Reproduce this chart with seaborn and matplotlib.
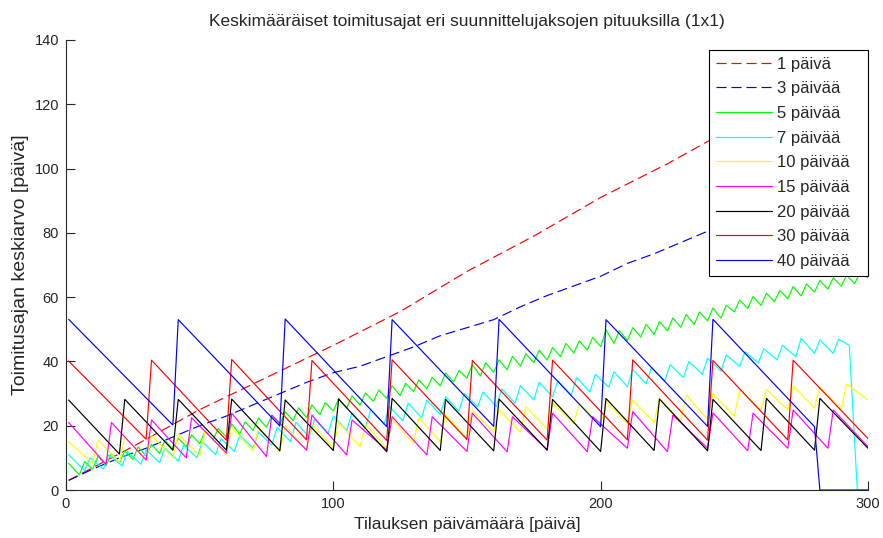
import matplotlib
matplotlib.use("Agg")
import matplotlib.pyplot as plt
import pandas as pd
import seaborn as sns

# 1 day planning period (red dashed), read every 25 days
days_1 = [1, 25, 50, 75, 100, 125, 150, 175, 200, 225, 250, 275, 300]
lead_1 = [3, 13.5, 25, 35, 45, 55.5, 68, 79, 91, 101.5, 113, 124.5, 136.5]

# 3 day planning period (blue dashed), read every 10 days
days_3 = [1, 10, 20, 30, 40, 50, 60, 70, 80, 90, 100, 110, 120, 130, 140, 150,
          160, 170, 180, 190, 200, 210, 220, 230, 240, 250, 260, 270, 280, 290, 300]
lead_3 = [3, 6.5, 10, 13, 16.5, 20, 23, 26.5, 30, 33.5, 36.5, 38.5, 41.5, 44.5, 48, 50.5,
          53, 57, 60.5, 63.5, 66.5, 70.5, 73.5, 77, 80.5, 84, 87.5, 91, 94.5, 98, 101.7]

# 5 days (green): peaks and troughs of the saw
peak_days_5 = [1] + list(range(7, 300, 5))
peak_5 = [8.3, 8.8, 10.5, 11.3, 12.2, 13.4, 14.2, 15.5, 16.1, 17.2,
          18.3, 19.1, 20.5, 21.2, 22.4, 23.1, 24.3, 25.6, 26.5, 27.2,
          28.4, 29.3, 30.2, 31.1, 32.4, 33.2, 34.3, 35.1, 36.4, 37.2,
          39.0, 39.6, 40.5, 41.6, 42.4, 43.5, 44.3, 45.6, 46.4, 47.5,
          49.8, 49.6, 50.5, 51.6, 52.4, 53.5, 54.6, 55.4, 56.6, 57.5,
          59.1, 60.2, 61.2, 62.1, 63.3, 64.1, 65.2, 66.0, 66.8, 67.6]
trough_days_5 = list(range(5, 301, 5))
trough_5 = [4.7, 6.5, 7.6, 8.4, 9.6, 10.5, 11.4, 12.6, 13.5, 14.4,
            15.6, 16.5, 17.4, 18.6, 19.5, 20.4, 21.6, 22.5, 23.4, 24.6,
            25.5, 26.4, 27.6, 28.5, 29.4, 30.6, 31.5, 32.4, 33.6, 34.8,
            35.5, 36.6, 37.4, 38.5, 39.6, 40.4, 41.5, 42.6, 43.5, 44.6,
            45.6, 46.5, 47.6, 48.4, 49.5, 50.6, 51.5, 52.6, 53.5, 55.4,
            56.5, 57.4, 58.6, 59.5, 60.4, 61.6, 62.5, 63.4, 64.2, 66.0]

# 7 days (cyan)
peak_days_7 = [1] + list(range(9, 290, 7))
peak_7 = [11, 10, 11, 12, 12.5, 13, 14, 15, 16, 17,
          18, 19.5, 21, 22, 23, 24, 25, 26, 27, 28,
          29, 30, 30.5, 31.5, 32.5, 33.5, 34, 35, 36, 36.8,
          37.5, 38, 39, 40, 41, 42, 43, 44, 45, 47.2,
          46.7, 46.9]
trough_days_7 = list(range(7, 288, 7))
trough_7 = [6, 6.5, 7.5, 8, 8.5, 9, 10, 11, 12, 13,
            14, 15, 16.5, 17.5, 18.5, 19.5, 20.5, 21.5, 22.5, 23.5,
            24.5, 25.9, 26, 27, 28, 29, 29.5, 30.5, 32, 32.1,
            33, 34, 35, 36, 37, 38.5, 39.5, 40.5, 41.5, 42.5,
            42.5]
tail_days_7 = [293, 296, 300]
tail_7 = [45, 0, 0]

# 10 days (yellow)
peak_days_10 = [1] + list(range(12, 300, 10))
peak_10 = [15, 15.6, 16.5, 17, 17.5, 18.5, 19.5, 19.5, 20, 20.5,
           21, 20.5, 22, 22.5, 23.5, 24.9, 25, 25.9, 27, 27,
           27.5, 28, 28.5, 29.6, 30, 31.1, 31.3, 32.4, 32, 33]
trough_days_10 = list(range(10, 301, 10))
trough_10 = [8.3, 8.5, 9.5, 10, 10.5, 11, 12, 12, 12.5, 13,
             13.5, 13, 14.5, 15, 16, 18, 18, 19, 20.8, 20,
             20.7, 21, 21.5, 22, 23, 24.9, 24.9, 25.5, 25, 28]

# 15 days (magenta)
peak_days_15 = [1] + list(range(17, 300, 15))
peak_15 = [21, 21, 21.8, 22.5, 23.9, 23.3, 23.3, 21.8, 22.8, 22.8,
           23.9, 22.8, 23.9, 22.8, 24.4, 23.3, 24, 23.9, 24.9, 24.9]
trough_days_15 = list(range(15, 301, 15))
trough_15 = [8, 9.3, 10, 11.5, 10.4, 12.4, 10.9, 12.4, 10.9, 12,
             11.9, 12.5, 11.9, 13, 11.9, 13, 12.2, 13, 13, 13.5]

# 20 days (black)
peak_days_20 = [1] + list(range(22, 300, 20))
peak_20 = [28, 28.2, 28.2, 28.3, 28, 28.3, 28.5, 28.2, 28.3, 28.2,
           28.5, 28.3, 28.2, 28.5, 28.5]
trough_days_20 = list(range(20, 301, 20))
trough_20 = [11.2, 12.4, 12.4, 12.2, 12.3, 11.9, 12.3, 12.2, 12.4, 12,
             12.3, 12.2, 12.3, 12.4, 13]

# 30 days (red)
peak_days_30 = [1] + list(range(32, 300, 30))
peak_30 = [40.1, 40.4, 40.6, 40.3, 40.5, 40.3, 40.4, 40.5, 40.3, 40.4]
trough_days_30 = list(range(30, 301, 30))
trough_30 = [15.8, 15.5, 15.6, 15.4, 15.7, 15.5, 15.6, 15.5, 15.6, 16]

# 40 days (blue)
peak_days_40 = [1] + list(range(42, 250, 40))
peak_40 = [53.1, 53, 53.2, 53, 53.1, 53, 53.1]
trough_days_40 = list(range(40, 281, 40))
trough_40 = [20.2, 19.9, 19.7, 19.8, 19.7, 19.8, 19.7]
tail_days_40 = [282, 300]
tail_40 = [0, 0]

labels = ["1 päivä", "3 päivää", "5 päivää", "7 päivää", "10 päivää",
          "15 päivää", "20 päivää", "30 päivää", "40 päivää"]
colors = ["#ff0000", "#0000ff", "#00ff00", "#00ffff", "#ffff00",
          "#ff00ff", "#000000", "#ff0000", "#0000ff"]
styles = [(0, (8.5, 4.2)), (0, (8.5, 4.2)), "-", "-", "-", "-", "-", "-", "-"]


def saw(pd_days, pvals, td_days, tvals, xd=(), xv=()):
    df = pd.DataFrame({"day": list(pd_days) + list(td_days) + list(xd),
                       "lead": list(pvals) + list(tvals) + list(xv)})
    return df.sort_values("day")


series = [
    pd.DataFrame({"day": days_1, "lead": lead_1}),
    pd.DataFrame({"day": days_3, "lead": lead_3}),
    saw(peak_days_5, peak_5, trough_days_5, trough_5),
    saw(peak_days_7, peak_7, trough_days_7, trough_7, tail_days_7, tail_7),
    saw(peak_days_10, peak_10, trough_days_10, trough_10),
    saw(peak_days_15, peak_15, trough_days_15, trough_15),
    saw(peak_days_20, peak_20, trough_days_20, trough_20),
    saw(peak_days_30, peak_30, trough_days_30, trough_30),
    saw(peak_days_40, peak_40, trough_days_40, trough_40, tail_days_40, tail_40),
]

sns.set_style("white")
plt.rcParams["font.family"] = ["Liberation Sans", "DejaVu Sans"]
plt.rcParams["font.size"] = 10

fig = plt.figure(figsize=(8.83, 5.38), dpi=100)
ax = fig.add_axes([0.0747, 0.0892, 0.9083, 0.8365])

for df, lab, col, ls in zip(series, labels, colors, styles):
    sns.lineplot(data=df, x="day", y="lead", ax=ax, color=col, linestyle=ls,
                 linewidth=0.85, label=lab, estimator=None, sort=True)

ax.set_xlim(0, 300)
ax.set_ylim(0, 140)
ax.set_xticks([0, 100, 200, 300])
ax.set_yticks(range(0, 141, 20))
ax.tick_params(direction="in", length=6.5, width=0.8, colors="#262626",
               labelsize=10.5, pad=5, bottom=True, left=True)
for side in ["top", "right"]:
    ax.spines[side].set_visible(False)
for side in ["left", "bottom"]:
    ax.spines[side].set_color("#262626")
    ax.spines[side].set_linewidth(0.8)

ax.set_title("Keskimääräiset toimitusajat eri suunnittelujaksojen pituuksilla (1x1)",
             fontsize=12.5, pad=10)
ax.set_xlabel("Tilauksen päivämäärä [päivä]", fontsize=12.5, labelpad=4)
ax.set_ylabel("Toimitusajan keskiarvo [päivä]", fontsize=14, labelpad=4)

leg = ax.legend(loc="upper right", bbox_to_anchor=(0.8017, 0.0, 0.1983, 0.978),
                mode="expand", borderaxespad=0, fancybox=False, framealpha=1,
                edgecolor="black", handlelength=3.4, handletextpad=0.3,
                labelspacing=0.58, borderpad=0.4, fontsize=12)
leg.get_frame().set_linewidth(0.8)

fig.savefig("out.png", dpi=100)
